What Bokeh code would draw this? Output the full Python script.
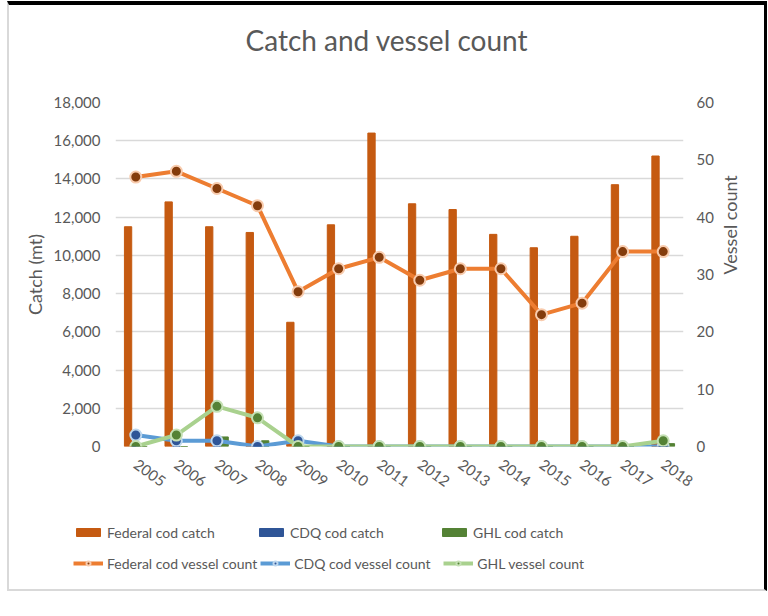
import math
from bokeh.plotting import figure
from bokeh.layouts import column, row
from bokeh.models import (FactorRange, Range1d, LinearAxis, Legend, LegendItem,
                          NumeralTickFormatter, FixedTicker, Div)
from bokeh.transform import dodge
from bokeh.embed import file_html
from bokeh.resources import INLINE

years = ["2005", "2006", "2007", "2008", "2009", "2010", "2011", "2012",
         "2013", "2014", "2015", "2016", "2017", "2018"]
federal_catch = [11500, 12800, 11500, 11200, 6500, 11600, 16400, 12700,
                 12400, 11100, 10400, 11000, 13700, 15200]
cdq_catch = [0, 0, 0, 0, 0, 0, 0, 0, 0, 0, 0, 0, 0, 0]
ghl_catch = [0, 0, 500, 300, 0, 0, 0, 0, 0, 0, 0, 0, 0, 150]
federal_vessels = [47, 48, 45, 42, 27, 31, 33, 29, 31, 31, 23, 25, 34, 34]
cdq_vessels = [2, 1, 1, 0, 1, 0, 0, 0, 0, 0, 0, 0, 0, 0]
ghl_vessels = [0, 2, 7, 5, 0, 0, 0, 0, 0, 0, 0, 0, 0, 1]

catch_ticks = [0, 2000, 4000, 6000, 8000, 10000, 12000, 14000, 16000, 18000]
vessel_ticks = [0, 10, 20, 30, 40, 50, 60]

FONT = "Lato"
GREY = "#595959"
C_FED, C_CDQ, C_GHL = "#C55A11", "#2F5597", "#548235"

data = dict(years=years, fed=federal_catch, cdq=cdq_catch, ghl=ghl_catch,
            fedv=federal_vessels, cdqv=cdq_vessels, ghlv=ghl_vessels)

title = Div(text="Catch and vessel count", width=755, height=63, margin=(0, 0, 0, 0),
            styles={"font-family": "Lato", "font-size": "28px", "color": GREY,
                    "text-align": "center", "line-height": "70px"})

p = figure(x_range=FactorRange(*years, range_padding=0),
           y_range=Range1d(0, 18000), title=None,
           width=755, height=432, output_backend="svg", toolbar_location=None,
           min_border_left=106, min_border_right=81, min_border_top=34,
           min_border_bottom=54)
p.outline_line_color = None
p.extra_y_ranges = {"vessels": Range1d(0, 60)}


def draw(fig, **vessel_kw):
    w = 0.18
    rb = [fig.vbar(x=dodge("years", off, range=fig.x_range), top=col, width=w,
                   source=data, color=c)
          for off, col, c in [(-0.19, "fed", C_FED), (0.0, "cdq", C_CDQ),
                              (0.19, "ghl", C_GHL)]]
    rl = []
    for col, lc, fc, hc in [("fedv", "#ED7D31", "#843C0C", "#F8CBAD"),
                            ("cdqv", "#5B9BD5", "#2F5597", "#BDD7EE"),
                            ("ghlv", "#A9D18E", "#548235", "#C5E0B4")]:
        ln = fig.line("years", col, source=data, line_color=lc, line_width=4,
                      **vessel_kw)
        sc = fig.scatter("years", col, source=data, size=11, fill_color=fc,
                         line_color=hc, line_width=2, **vessel_kw)
        rl.append([ln, sc])
    return rb, rl


draw(p, y_range_name="vessels")

# axes
p.xgrid.grid_line_color = None
p.ygrid.grid_line_color = "#d9d9d9"
p.ygrid.grid_line_width = 1.5

for ax in [p.xaxis[0], p.yaxis[0]]:
    ax.axis_line_color = None
    ax.major_tick_line_color = None
    ax.minor_tick_line_color = None
    ax.major_tick_out = 0
    ax.major_tick_in = 0
    ax.major_label_text_font = FONT
    ax.major_label_text_font_size = "15px"
    ax.major_label_text_color = GREY

p.xaxis.major_label_orientation = -0.63
p.xaxis.major_label_standoff = 16

p.yaxis[0].ticker = FixedTicker(ticks=catch_ticks)
p.yaxis[0].formatter = NumeralTickFormatter(format="0,0")
p.yaxis[0].major_label_standoff = 15
p.yaxis[0].axis_label = "Catch (mt)"
p.yaxis[0].axis_label_text_font = FONT
p.yaxis[0].axis_label_text_font_size = "18px"
p.yaxis[0].axis_label_text_font_style = "normal"
p.yaxis[0].axis_label_text_color = GREY
p.yaxis[0].axis_label_standoff = 5

ra = LinearAxis(y_range_name="vessels", ticker=FixedTicker(ticks=vessel_ticks),
                axis_label="Vessel count")
ra.axis_line_color = None
ra.major_tick_line_color = None
ra.minor_tick_line_color = None
ra.major_tick_out = 0
ra.major_tick_in = 0
ra.major_label_text_font = FONT
ra.major_label_text_font_size = "15px"
ra.major_label_text_color = GREY
ra.major_label_standoff = 13
ra.axis_label_text_font = FONT
ra.axis_label_text_font_size = "18px"
ra.axis_label_text_font_style = "normal"
ra.axis_label_text_color = GREY
ra.axis_label_standoff = 13
try:
    ra.axis_label_orientation = math.pi / 2
except Exception:
    pass
p.add_layout(ra, "right")

# legend strip: same series drawn in a figure whose view lies far above the data,
# so only the legend is visible
q = figure(x_range=FactorRange(*years, range_padding=0), y_range=Range1d(1e6, 2e6),
           width=755, height=89, output_backend="svg", toolbar_location=None,
           x_axis_location=None, y_axis_location=None, min_border=0,
           min_border_left=0, min_border_right=0, min_border_top=0,
           min_border_bottom=0)
q.outline_line_color = None
q.grid.visible = False
qb, ql = draw(q)


def make_legend(items, loc):
    lg = Legend(items=items, orientation="horizontal", location=loc)
    lg.padding = 0
    lg.margin = 0
    lg.spacing = 3
    lg.border_line_color = None
    lg.background_fill_alpha = 0
    lg.glyph_width = 30
    lg.glyph_height = 10
    lg.label_standoff = 4
    lg.label_width = 146
    lg.label_height = 28
    lg.label_text_font = FONT
    lg.label_text_font_size = "14px"
    lg.label_text_color = GREY
    return lg


legend1 = make_legend([
    LegendItem(label="Federal cod catch", renderers=[qb[0]]),
    LegendItem(label="CDQ cod catch", renderers=[qb[1]]),
    LegendItem(label="GHL cod catch", renderers=[qb[2]]),
], (64, 43))
legend2 = make_legend([
    LegendItem(label="Federal cod vessel count", renderers=ql[0]),
    LegendItem(label="CDQ cod vessel count", renderers=ql[1]),
    LegendItem(label="GHL vessel count", renderers=ql[2]),
], (64, 12))
q.add_layout(legend1, "center")
q.add_layout(legend2, "center")

layout = column(title, p, row(q, spacing=0), spacing=0,
                styles={"border-top": "4px solid black", "border-right": "3px solid black",
                        "border-left": "2px solid #d9d9d9", "border-bottom": "2px solid #d9d9d9",
                        "margin-top": "1px", "margin-left": "7px",
                        "background-color": "white"})

open("out.html", "w").write(file_html(layout, INLINE))
